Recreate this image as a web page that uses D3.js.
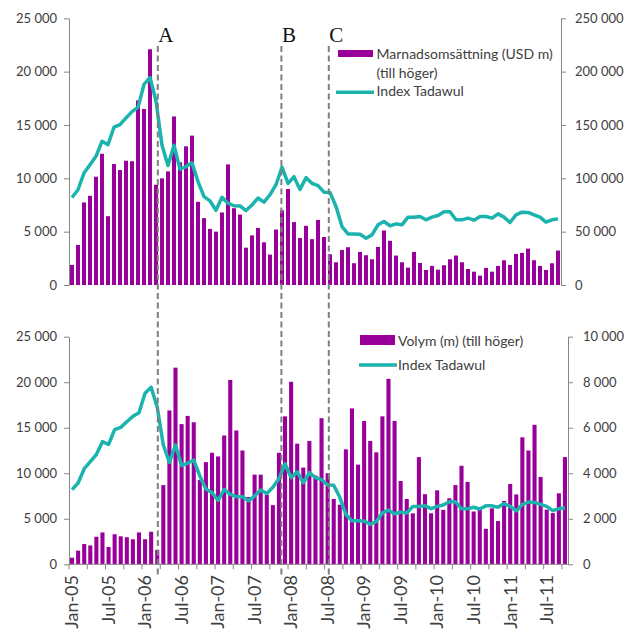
<!DOCTYPE html>
<html><head><meta charset="utf-8">
<script src="https://cdn.jsdelivr.net/npm/d3@7"></script>
<style>
html,body{margin:0;padding:0;background:#fff;}
svg{display:block;}
</style></head>
<body><svg id="chart" width="635" height="631"></svg>
<script>
const months = ["Jan-05","Feb-05","Mar-05","Apr-05","May-05","Jun-05","Jul-05","Aug-05","Sep-05","Oct-05","Nov-05","Dec-05",
"Jan-06","Feb-06","Mar-06","Apr-06","May-06","Jun-06","Jul-06","Aug-06","Sep-06","Oct-06","Nov-06","Dec-06",
"Jan-07","Feb-07","Mar-07","Apr-07","May-07","Jun-07","Jul-07","Aug-07","Sep-07","Oct-07","Nov-07","Dec-07",
"Jan-08","Feb-08","Mar-08","Apr-08","May-08","Jun-08","Jul-08","Aug-08","Sep-08","Oct-08","Nov-08","Dec-08",
"Jan-09","Feb-09","Mar-09","Apr-09","May-09","Jun-09","Jul-09","Aug-09","Sep-09","Oct-09","Nov-09","Dec-09",
"Jan-10","Feb-10","Mar-10","Apr-10","May-10","Jun-10","Jul-10","Aug-10","Sep-10","Oct-10","Nov-10","Dec-10",
"Jan-11","Feb-11","Mar-11","Apr-11","May-11","Jun-11","Jul-11","Aug-11","Sep-11","Oct-11"];

const tickLabels = ["Jan-05","Jul-05","Jan-06","Jul-06","Jan-07","Jul-07","Jan-08","Jul-08","Jan-09","Jul-09","Jan-10","Jul-10","Jan-11","Jul-11"];

// Marknadsomsättning (USD m), right axis of top panel
const turnover = [18800,37600,77400,83600,101500,123000,64500,113400,107800,116500,
116000,173000,165000,221000,94000,100000,106500,158000,115000,130000,
140000,78000,62700,52600,50000,68000,113000,72000,66000,35000,
46500,53500,40000,28500,52000,70000,90000,59000,44000,55500,
43000,61000,45000,28800,21300,32900,35400,20400,31000,27900,
24100,35700,51100,41400,27600,21300,16300,31000,20700,14100,
17900,14400,18500,24100,27600,21300,15000,12500,8800,16000,
12500,17900,23200,18800,29100,30100,34100,23200,17900,14100,
20400,32300];

// Volym (m), right axis of bottom panel
const volume = [290,600,890,830,1210,1400,760,1320,1230,1190,
1100,1400,1100,1430,630,3480,6760,8640,6160,6520,
6240,3700,4490,4900,4740,5660,8100,5880,5000,2960,
3940,3940,3050,2600,4900,6500,8020,5300,4250,5420,
3900,6420,4000,2870,2620,5050,6850,4380,6300,5420,
4920,6500,8150,6300,3660,2870,2240,4710,3080,2240,
3250,2390,2900,3480,4330,3620,2320,2410,1560,2460,
1900,2780,3530,3070,5580,5000,6130,3840,2400,2250,
3120,4710];

// Index Tadawul, left axis of both panels
const tadawul = [8200,8930,10500,11280,12060,13470,13160,14790,15040,15660,
16250,16650,18800,19450,17250,13100,11200,13100,10850,11100,
11450,9700,8280,7880,7010,8230,7670,7430,7410,6980,
7500,8150,7770,8460,9400,11040,9520,10150,8960,10060,
9530,9310,8700,8680,7360,5480,4790,4790,4760,4390,
4700,5640,5950,5550,5730,5640,6360,6360,6420,6110,
6360,6520,6860,6860,6110,6110,6270,6080,6420,6420,
6270,6670,6360,5860,6580,6830,6800,6580,6360,5890,
6110,6200];

const leftTicks = [0,5000,10000,15000,20000,25000];
const topRightTicks = [0,50000,100000,150000,200000,250000];
const botRightTicks = [0,2000,4000,6000,8000,10000];

// event markers, in months from Jan-05
const markers = [{label:"A", month:14.8},{label:"B", month:35.4},{label:"C", month:43.3}];

const BAR = "#990099", LINE = "#1BB3AE", AX = "#868686", TXT = "#404040";
const FONT = "Lato, 'Open Sans', sans-serif";

const svg = d3.select("#chart");
const loc = d3.formatLocale({decimal:",", thousands:" ", grouping:[3], currency:["",""]});
const fmt = loc.format(",d");

function panel(cfg) {
  const x = d3.scaleBand().domain(months).range([cfg.left, cfg.right]).paddingInner(0.33).paddingOuter(0.165);
  const yL = d3.scaleLinear().domain([0,25000]).range([cfg.bottom, cfg.top]);
  const yR = d3.scaleLinear().domain([0, cfg.rightMax]).range([cfg.bottom, cfg.top]);
  const g = svg.append("g");

  g.selectAll("rect.bar").data(cfg.bars).join("rect").attr("class","bar")
    .attr("x",(d,i)=>x(months[i])).attr("width",x.bandwidth())
    .attr("y",d=>yR(d)).attr("height",d=>cfg.bottom-yR(d)).attr("fill",BAR);

  const la = g.append("g").attr("transform",`translate(${cfg.left},0)`)
    .call(d3.axisLeft(yL).tickValues(leftTicks).tickFormat(fmt).tickSize(5).tickSizeOuter(0).tickPadding(7));
  const ra = g.append("g").attr("transform",`translate(${cfg.right},0)`)
    .call(d3.axisRight(yR).tickValues(cfg.rightTicks).tickFormat(fmt).tickSize(5).tickSizeOuter(0).tickPadding(cfg.rpad));
  [la,ra].forEach(a=>{
    a.select(".domain").attr("stroke",AX);
    a.selectAll(".tick line").attr("stroke",AX);
    a.selectAll(".tick text").attr("fill",TXT).style("font-family",FONT).style("font-size","13px");
  });
  return {x,yL,yR,g};
}

const T = panel({left:69,right:561,top:18.3,bottom:285,rightMax:250000,rightTicks:topRightTicks,bars:turnover,rpad:9});
const B = panel({left:69,right:568,top:336.7,bottom:564.3,rightMax:10000,rightTicks:botRightTicks,bars:volume,rpad:10});

// bottom x axis
const bx = B.x;
B.g.append("line").attr("x1",69).attr("x2",568).attr("y1",564.3).attr("y2",564.3).attr("stroke",AX);
const step = bx.step();
B.g.selectAll("line.xt").data(months.filter((m,i)=>i%3===0)).join("line").attr("class","xt")
  .attr("x1",d=>bx(d)+bx.bandwidth()/2-step/2).attr("x2",d=>bx(d)+bx.bandwidth()/2-step/2)
  .attr("y1",564.3).attr("y2",569.3).attr("stroke",AX);
B.g.selectAll("text.xl").data(tickLabels).join("text").attr("class","xl")
  .attr("transform",d=>`translate(${bx(d)+bx.bandwidth()/2},575) rotate(-90)`)
  .attr("text-anchor","end").attr("dy","0.35em")
  .style("font-family",FONT).style("font-size","18px").attr("fill",TXT).text(d=>d);

// event markers
const mx = d3.scaleLinear().domain([0, months.length]).range([69, 561]);
svg.selectAll("line.mk").data(markers).join("line").attr("class","mk")
  .attr("x1",d=>mx(d.month)).attr("x2",d=>mx(d.month)).attr("y1",46).attr("y2",576)
  .attr("stroke","#7f7f7f").attr("stroke-width",2).attr("stroke-dasharray","6,3.5");
svg.selectAll("text.mk").data(markers).join("text").attr("class","mk")
  .attr("x",d=>mx(d.month)+0.5).attr("y",42)
  .style("font-family","'Liberation Serif', 'Times New Roman', serif").style("font-size","21px")
  .attr("fill","#111").text(d=>d.label);

// index lines
[T,B].forEach(P=>{
  const line = d3.line().x((d,i)=>P.x(months[i])+P.x.bandwidth()/2).y(d=>P.yL(d));
  P.g.append("path").datum(tadawul).attr("d",line).attr("fill","none")
    .attr("stroke",LINE).attr("stroke-width",3.5).attr("stroke-linejoin","round");
});

// legends
const lg = svg.append("g").style("font-family",FONT).style("font-size","14px").attr("fill",TXT);
lg.append("rect").attr("x",338).attr("y",50).attr("width",35).attr("height",7).attr("fill",BAR);
lg.append("text").attr("x",376.5).attr("y",54).attr("dy","0.35em").text("Marnadsomsättning (USD m)");
lg.append("text").attr("x",376.5).attr("y",73).attr("dy","0.35em").text("(till höger)");
lg.append("line").attr("x1",336).attr("x2",374).attr("y1",92.3).attr("y2",92.3).attr("stroke",LINE).attr("stroke-width",3.5);
lg.append("text").attr("x",376.5).attr("y",91.5).attr("dy","0.35em").text("Index Tadawul");

lg.append("rect").attr("x",360).attr("y",335).attr("width",35).attr("height",10).attr("fill",BAR);
lg.append("text").attr("x",398).attr("y",340.7).attr("dy","0.35em").text("Volym (m) (till höger)");
lg.append("line").attr("x1",359).attr("x2",397).attr("y1",365).attr("y2",365).attr("stroke",LINE).attr("stroke-width",3.5);
lg.append("text").attr("x",398).attr("y",365).attr("dy","0.35em").text("Index Tadawul");
</script>
</body></html>
